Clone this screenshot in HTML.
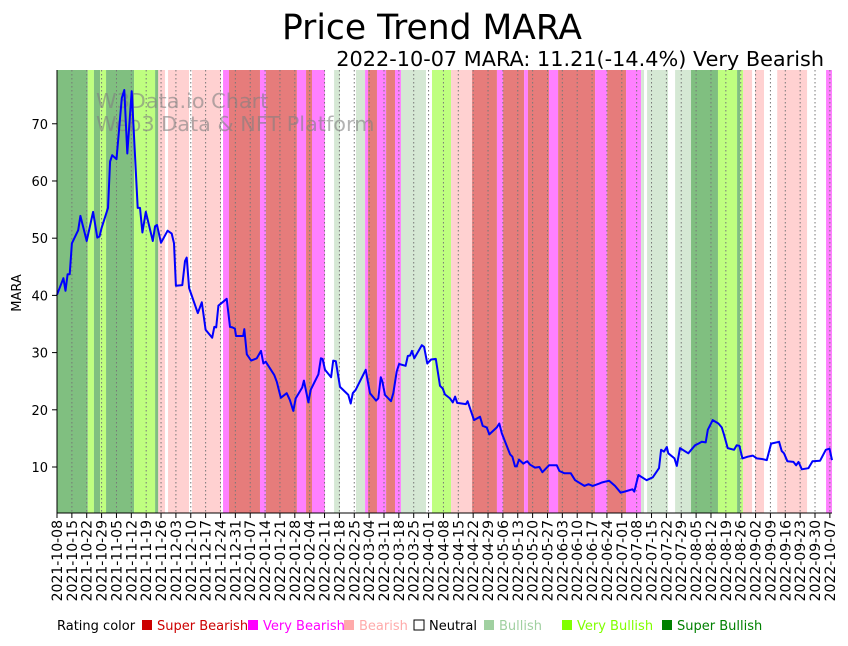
<!DOCTYPE html>
<html><head><meta charset="utf-8"><style>
body{margin:0;background:#fff;width:848px;height:641px;overflow:hidden;font-family:"Liberation Sans","DejaVu Sans",sans-serif}
</style></head><body>
<svg id="chart" width="848" height="641" xmlns="http://www.w3.org/2000/svg" font-family="DejaVu Sans, Liberation Sans, sans-serif">
<text x="432" y="39" font-size="34.5" text-anchor="middle">Price Trend MARA</text>
<text x="824" y="66" font-size="20.8" text-anchor="end">2022-10-07 MARA: 11.21(-14.4%) Very Bearish</text>
<g id="bands"></g><g id="grid"></g>
<text x="96" y="108" font-size="20.8" fill="#808080" fill-opacity="0.6">W3Data.io Chart</text>
<text x="96" y="131" font-size="20.8" fill="#808080" fill-opacity="0.6">Web3 Data &amp; NFT Platform</text>
<g id="line"></g><g id="axes"></g>
<text transform="translate(21,293) rotate(-90)" font-size="13" text-anchor="middle">MARA</text>
<g id="legend" font-size="13">
<text x="57" y="630">Rating color</text>
<rect x="142" y="620" width="10" height="10" fill="#cc0000"/><text x="157" y="630" fill="#cc0000">Super Bearish</text>
<rect x="248" y="620" width="10" height="10" fill="#ff00ff"/><text x="263" y="630" fill="#ff00ff">Very Bearish</text>
<rect x="344" y="620" width="10" height="10" fill="#ffaaaa"/><text x="359" y="630" fill="#ffaaaa">Bearish</text>
<rect x="414" y="620" width="10" height="10" fill="#fff" stroke="#000"/><text x="429" y="630">Neutral</text>
<rect x="484" y="620" width="10" height="10" fill="#a0d0a0"/><text x="499" y="630" fill="#a0d0a0">Bullish</text>
<rect x="562" y="620" width="10" height="10" fill="#80ff00"/><text x="577" y="630" fill="#80ff00">Very Bullish</text>
<rect x="662" y="620" width="10" height="10" fill="#008000"/><text x="677" y="630" fill="#008000">Super Bullish</text>
</g>
</svg>
<script>
const priceDays=[0,3,4,5,6,7,10,11,14,17,19,20,21,24,25,26,28,30.5,31.7,33.1,35.2,38,39.1,40.2,41.8,45.1,46.2,47.1,49,52.1,54,55.1,56,59,60.3,61.1,62.2,66.3,68.2,70,73.1,74.1,75,76,79.9,81.5,82.6,83.8,84.3,87.7,88.2,89.4,91.4,94.1,96.1,97.2,98.3,102.3,103.5,105.4,108.2,109.7,111.3,112.4,115.5,116.3,118.4,119.5,123.1,124.3,125.1,126.2,129.1,130.1,131.3,133.3,137.2,138.3,139.3,140.7,145.4,147.4,150.3,151.3,152.5,153.2,154.5,157.3,158.4,160,161.1,164.2,165.2,166.3,167.2,168.3,171.8,172.9,174.4,176.2,178.4,180.4,181.7,182.7,185.1,186.4,187.5,188.5,192.6,193.4,196.4,199.2,200.5,202.4,203.6,207.1,208.3,209.5,213.4,214.5,215.7,216.5,217.6,219.6,220.9,221.5,222.8,225.1,227.2,228.6,231.7,235.4,236.6,239,242,244,248.4,250.3,252.3,255.4,256.6,260,262.8,265.5,268.3,271,271.9,273.8,277.7,280.6,283.5,284.5,285.9,287.2,287.9,290.8,291.9,293.4,297.3,300.5,302.1,303.7,305.5,306.5,308.8,311.5,313.1,314.2,315.9,318.9,320.1,321.4,322.8,325.3,327.7,329.6,332,334.3,336.3,340.1,341.3,342.4,344,346.8,348.1,349.2,350.8,353.9,355.8,359.4,362.1,363.8,365];
const priceValues=[40.1,43.0,40.8,43.7,43.7,49.1,51.4,53.9,49.5,54.6,50.1,50.3,51.8,55.3,63.4,64.5,63.8,74.5,75.9,64.8,75.7,55.3,55.3,51.0,54.6,49.5,52.1,52.3,49.2,51.3,50.8,49.1,41.7,41.8,46.0,46.6,41.3,36.9,38.8,34.0,32.6,34.5,34.4,38.2,39.4,34.5,34.4,34.2,32.9,32.9,34.1,29.7,28.6,29.0,30.3,28.1,28.4,26.1,24.9,22.1,22.9,21.7,19.8,22.0,23.9,25.1,21.3,23.5,26.2,29.0,28.9,27.0,25.7,28.6,28.5,24.0,22.6,21.1,22.9,23.5,27.0,22.9,21.6,22.0,25.7,25.0,22.6,21.5,22.9,26.7,28.0,27.7,29.4,29.5,30.3,29.0,31.3,31.0,28.1,28.8,28.9,24.2,23.7,22.7,22.0,21.3,22.3,21.2,21.0,21.5,18.2,18.8,17.2,16.9,15.7,16.9,17.6,15.9,12.2,11.8,10.1,10.1,11.3,10.6,10.9,11.0,10.4,9.9,10.0,9.1,10.3,10.3,9.3,8.9,8.9,7.7,6.7,7.0,6.7,7.1,7.3,7.6,6.7,5.5,5.8,6.1,5.7,8.6,7.7,8.2,9.8,13.0,12.7,13.5,12.4,11.5,10.2,13.3,12.4,13.8,14.1,14.4,14.3,16.5,18.2,17.6,16.9,15.6,13.3,13.0,13.8,13.7,11.5,11.8,12.0,11.5,11.4,11.2,14.1,14.4,12.8,12.4,11.0,10.9,10.3,10.9,9.6,9.8,11.0,11.1,13.0,13.2,11.21];
const bandStarts=[0,14.5,17.4,20.3,23.1,36.3,46.2,47.7,50.9,52.3,62.2,63.6,77.2,78.2,81,95.6,98.4,113,117.3,120.1,126.2,130.5,133.3,140.8,145.1,146.5,150.7,155,159.2,162,173.8,176.6,185.6,195.5,207.2,210.1,220,221.8,231.7,236,253.4,259.1,268,275.1,276.5,277.9,287.8,291.1,298.6,311.3,320.3,321.7,323.1,327.4,328.8,333,339.2,353.3,362.2];
const bandRatings=[6,5,6,5,6,5,6,2,3,2,3,2,3,1,0,1,0,1,0,1,3,4,3,4,1,0,1,0,1,4,3,5,2,0,1,0,1,0,1,0,1,0,1,4,3,4,3,4,6,5,6,5,2,3,2,3,2,3,1];
const yTicks=[10,20,30,40,50,60,70];
const ratingColors=['#e67c7b','#ff80ff','#ffd1d1','#ffffff','#d5e8d4','#bfff80','#80bf80'];
const X0=57,X1=832,Y0=70,Y1=513,DMAX=365,VMIN=1.96,VMAX=79.4;
const xs=d=>X0+(X1-X0)*d/DMAX, ys=v=>Y1-(Y1-Y0)*(v-VMIN)/(VMAX-VMIN);
const NS='http://www.w3.org/2000/svg';
function mk(tag,parent,attrs){const e=document.createElementNS(NS,tag);for(const k in attrs)e.setAttribute(k,attrs[k]);parent.appendChild(e);return e;}
const gb=document.getElementById('bands');
bandStarts.forEach((s,i)=>{const e=i+1<bandStarts.length?bandStarts[i+1]:DMAX;
 const r=mk('rect',gb,{x:xs(s),y:Y0,width:Math.max(0,xs(e)-xs(s)),height:Y1-Y0,fill:ratingColors[bandRatings[i]]});
 
 });
const gg=document.getElementById('grid'),ga=document.getElementById('axes');
const start=new Date(Date.UTC(2021,9,8));
for(let d=0;d<=DMAX;d+=7){const x=xs(d);
 mk('line',gg,{x1:x,x2:x,y1:Y0,y2:Y1,stroke:'#777','stroke-width':1,'stroke-dasharray':'1.5,2.5'});
 mk('line',ga,{x1:x,x2:x,y1:Y1,y2:Y1+5,stroke:'#000'});
 const dt=new Date(start.getTime()+d*86400000);const lab=dt.toISOString().slice(0,10);
 const t=mk('text',ga,{transform:`translate(${x+5},${Y1+7}) rotate(-90)`,'font-size':14,'text-anchor':'end'});
 
 
 t.textContent=lab;}
yTicks.forEach(v=>{const y=ys(v);
 mk('line',ga,{x1:X0-5,x2:X0,y1:y,y2:y,stroke:'#000'});
 const t=mk('text',ga,{x:X0-9,y:y+5,'font-size':13,'text-anchor':'end'});
 
 
 t.textContent=v;});
mk('line',ga,{x1:X0,x2:X0,y1:Y0,y2:Y1,stroke:'#000'});
mk('line',ga,{x1:X0,x2:X1,y1:Y1,y2:Y1,stroke:'#000'});
const pts=priceDays.map((d,i)=>xs(d).toFixed(1)+','+ys(priceValues[i]).toFixed(1)).join(' ');
const pl=mk('polyline',document.getElementById('line'),{points:pts,fill:'none',stroke:'#0000ff','stroke-width':2,'stroke-linejoin':'round'});


</script>
</body></html>
